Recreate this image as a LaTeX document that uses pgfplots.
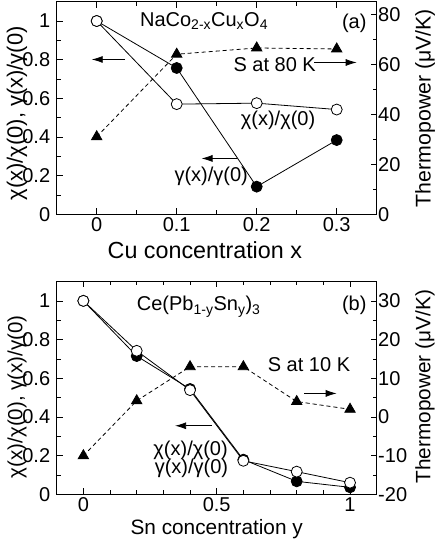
\documentclass[border=0pt]{standalone}
\usepackage{fontspec}
\setmainfont{Liberation Sans}
\usepackage{pgfplots}
\pgfplotsset{compat=1.18}
\usetikzlibrary{arrows.meta}
\newcommand{\tfont}{\fontsize{20}{22}\selectfont}
\pgfplotsset{
  base/.style={
    scale only axis, width=320pt,
    /pgf/number format/assume math mode=true,
    tick align=inside,
    major tick length=6pt, minor tick length=4pt,
    every tick/.style={black, line width=0.6pt},
    axis line style={line width=0.7pt},
    tick label style={font=\tfont},
    clip=false,
  },
}
\tikzset{
  arr/.style={line width=0.8pt,-{Latex[length=11pt,width=7pt]}},
  dsh/.style={line width=0.8pt, dash pattern=on 4pt off 3pt},
}
\begin{document}
\begin{tikzpicture}
\useasboundingbox (0,0) rectangle (436pt,543pt);
% ===== Panel (a) right axis =====
\begin{axis}[base, at={(56.7pt,328.7pt)}, anchor=south west, height=212.6pt,
  xmin=-0.05, xmax=0.35, ymin=0, ymax=85,
  axis x line=none, axis y line*=right, ytick pos=right,
  ytick={0,20,40,60,80}, minor y tick num=1,
  yticklabel style={xshift=-2pt},
  ylabel={Thermopower (μV/K)},
  ylabel style={font=\fontsize{21.3}{23}\selectfont, at={(axis description cs:1.151,0.5)}, anchor=center},
]
\addplot[dsh, mark=triangle*, mark size=6pt, mark options={solid, fill=black}] coordinates {
(0,31) (0.1,64) (0.2,66.5) (0.3,66.1)};
\end{axis}
% ===== Panel (a) left axis =====
\begin{axis}[base, at={(56.7pt,328.7pt)}, anchor=south west, height=212.6pt,
  xmin=-0.05, xmax=0.35, ymin=0, ymax=1.1,
  ytick pos=left,
  xtick={0,0.1,0.2,0.3}, minor x tick num=1,
  ytick={0,0.2,0.4,0.6,0.8,1}, minor y tick num=1,
  yticklabel style={xshift=-3pt},
  xlabel={Cu concentration x},
  xlabel style={font=\fontsize{23.3}{25}\selectfont, at={(axis description cs:0.463,-0.207)}, anchor=base},
  ylabel={χ(x)/χ(0), γ(x)/γ(0)},
  ylabel style={font=\fontsize{21.9}{24}\selectfont, at={(axis description cs:-0.124,0.475)}, anchor=center},
]
\addplot[line width=0.8pt, mark=*, mark size=5.5pt, mark options={fill=black}] coordinates {
(0,1) (0.1,0.757) (0.2,0.143) (0.3,0.384)};
\addplot[line width=0.8pt, mark=*, mark size=5.5pt, mark options={fill=white}] coordinates {
(0,1) (0.1,0.57) (0.2,0.575) (0.3,0.542)};
\node[font=\tfont, anchor=base west, inner sep=0pt] at (axis cs:0.054,0.970) {NaCo\textsubscript{2-x}Cu\textsubscript{x}O\textsubscript{4}};
\node[font=\tfont, anchor=base east, inner sep=0pt] at (axis cs:0.3375,0.961) {(a)};
\node[font=\tfont, anchor=base west, inner sep=0pt] at (axis cs:0.1708,0.74) {S at 80 K};
\draw[arr] (axis cs:0.272,0.7855) -- (axis cs:0.325,0.7855);
\draw[arr] (axis cs:0.0354,0.801) -- (axis cs:-0.00625,0.801);
\node[font=\tfont, anchor=base west, inner sep=0pt] at (axis cs:0.18,0.459) {χ(x)/χ(0)};
\draw[arr] (axis cs:0.1758,0.289) -- (axis cs:0.131,0.289);
\node[font=\tfont, anchor=base west, inner sep=0pt] at (axis cs:0.097,0.172) {γ(x)/γ(0)};
\end{axis}
% ===== Panel (b) right axis =====
\begin{axis}[base, at={(56.7pt,48.5pt)}, anchor=south west, height=213pt,
  xmin=-0.1, xmax=1.1, ymin=-20, ymax=35,
  axis x line=none, axis y line*=right, ytick pos=right,
  ytick={-20,-10,0,10,20,30}, minor y tick num=1,
  yticklabel style={xshift=-2pt},
  ylabel={Thermopower (μV/K)},
  ylabel style={font=\fontsize{20.8}{23}\selectfont, at={(axis description cs:1.151,0.506)}, anchor=center},
]
\addplot[dsh, mark=triangle*, mark size=6pt, mark options={solid, fill=black}] coordinates {
(0,-10) (0.2,4.2) (0.4,13) (0.6,13) (0.8,4) (1,2)};
\end{axis}
% ===== Panel (b) left axis =====
\begin{axis}[base, at={(56.7pt,48.5pt)}, anchor=south west, height=213pt,
  xmin=-0.1, xmax=1.1, ymin=0, ymax=1.1,
  ytick pos=left,
  xtick={0,0.5,1}, minor x tick num=4,
  ytick={0,0.2,0.4,0.6,0.8,1}, minor y tick num=1,
  yticklabel style={xshift=-3pt},
  xlabel={Sn concentration y},
  xlabel style={font=\fontsize{20.8}{23}\selectfont, at={(axis description cs:0.5,-0.19)}, anchor=base},
  ylabel={χ(x)/χ(0), γ(x)/γ(0)},
  ylabel style={font=\fontsize{20.5}{23}\selectfont, at={(axis description cs:-0.124,0.459)}, anchor=center},
]
\addplot[line width=0.8pt, mark=*, mark size=5.5pt, mark options={fill=black}] coordinates {
(0,1) (0.2,0.715) (0.4,0.545) (0.6,0.18) (0.8,0.068) (1,0.037)};
\addplot[line width=0.8pt, mark=*, mark size=5.5pt, mark options={fill=white}] coordinates {
(0,1) (0.2,0.742) (0.4,0.539) (0.6,0.174) (0.8,0.118) (1,0.061)};
\node[font=\tfont, anchor=base west, inner sep=0pt] at (axis cs:0.2,0.948) {Ce(Pb\textsubscript{1-y}Sn\textsubscript{y})\textsubscript{3}};
\node[font=\tfont, anchor=base east, inner sep=0pt] at (axis cs:1.0626,0.948) {(b)};
\node[font=\tfont, anchor=base west, inner sep=0pt] at (axis cs:0.691,0.634) {S at 10 K};
\draw[arr] (axis cs:0.829,0.522) -- (axis cs:0.95,0.522);
\draw[arr] (axis cs:0.4814,0.355) -- (axis cs:0.344,0.355);
\node[font=\tfont, anchor=base west, inner sep=0pt] at (axis cs:0.262,0.199) {χ(x)/χ(0)};
\node[font=\tfont, anchor=base west, inner sep=0pt] at (axis cs:0.267,0.106) {γ(x)/γ(0)};
\end{axis}
\end{tikzpicture}
\end{document}
